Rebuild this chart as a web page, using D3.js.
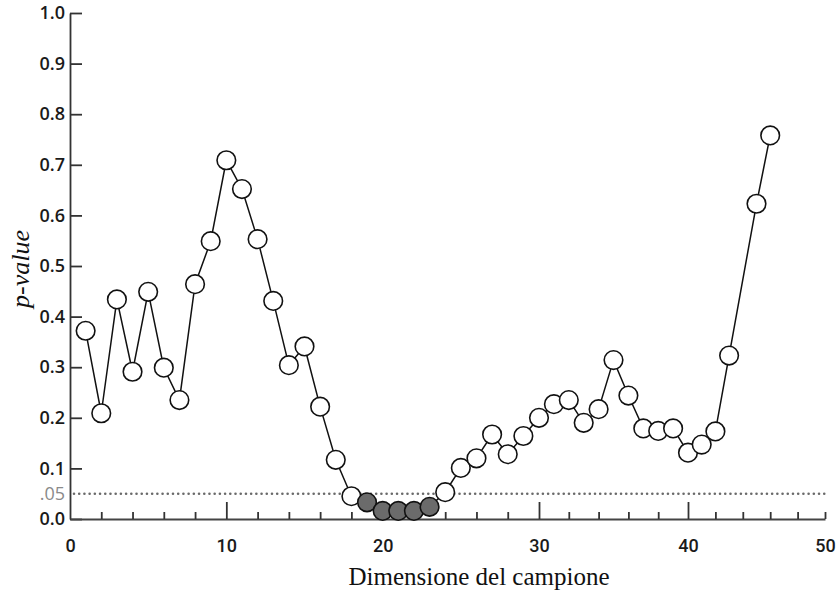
<!DOCTYPE html>
<html><head><meta charset="utf-8">
<script src="https://cdn.jsdelivr.net/npm/d3@7"></script>
<style>body{margin:0;background:#fff}</style>
</head><body>
<svg id="c" width="836" height="594"></svg>
<script>
// ---- data ----
const sampleSizes = [1,2,3,4,5,6,7,8,9,10,11,12,13,14,15,16,17,18,19,20,21,22,23,24,25,26,27,28,29,30,31,32,33,34,35,36,37,38,39,40,41,42,43,45,46];
const pValues = [0.372,0.209,0.434,0.291,0.449,0.299,0.235,0.464,0.549,0.709,0.652,0.553,0.431,0.304,0.341,0.222,0.117,0.045,0.033,0.016,0.016,0.016,0.024,0.053,0.101,0.120,0.167,0.128,0.164,0.200,0.227,0.235,0.190,0.217,0.314,0.244,0.179,0.174,0.179,0.131,0.147,0.173,0.323,0.623,0.758];
const significantSizes = [19,20,21,22,23];
const yTickValues = [0,0.1,0.2,0.3,0.4,0.5,0.6,0.7,0.8,0.9,1.0];
const yTickLabels = ["0.0","0.1","0.2","0.3","0.4","0.5","0.6","0.7","0.8","0.9","1.0"];
const xMajorTicks = [0,10,20,30,40,50];
const xLongTicks = [10,20,30,40];
const xShortTicks = [2,4,6,8,12,14,16,18,22,24,26,28,32,34,36,38,42,44,46,48,50];
const alphaLevel = 0.05;
const alphaLabel = ".05";
const xTitle = "Dimensione del campione";
const yTitle = "p-value";

// ---- chart ----
const svg = d3.select("#c");
const x = d3.scaleLinear().domain([0,30,40,50]).range([70,539,688,825]);
const y = d3.scaleLinear().domain([0,1]).range([519,13]);

// y axis
const yAxis = svg.append("g").attr("transform","translate(70,0)")
  .call(d3.axisLeft(y).tickValues(yTickValues).tickSize(-12).tickSizeOuter(0).tickPadding(5)
    .tickFormat((d,i)=>yTickLabels[i]));
yAxis.select(".domain").attr("stroke","#333").attr("stroke-width",1.8);
yAxis.selectAll(".tick line").attr("stroke","#333").attr("stroke-width",1.8);
yAxis.selectAll(".tick text").attr("fill","#1a1a1a")
  .style("font-family","'Open Sans', sans-serif").style("font-weight","600").style("font-size","18px");

// .05 label and dotted line
svg.append("text").attr("x",65).attr("y",y(alphaLevel)).attr("dy","0.35em").attr("text-anchor","end")
  .attr("fill","#8a8a8a").style("font-family","'Open Sans', sans-serif").style("font-size","18px").text(alphaLabel);
svg.append("line").attr("x1",x(0)+4).attr("x2",x(50)).attr("y1",y(alphaLevel)).attr("y2",y(alphaLevel))
  .attr("stroke","#6a6a6a").attr("stroke-width",2.6).attr("stroke-linecap","round").attr("stroke-dasharray","0.01 5.2");

// x axis
const xAxis = svg.append("g").attr("transform","translate(0,519)")
  .call(d3.axisBottom(x).tickValues(xMajorTicks).tickSize(0).tickSizeOuter(0).tickPadding(20).tickFormat(d3.format("d")));
xAxis.select(".domain").attr("stroke","#444").attr("stroke-width",2.2);
xAxis.selectAll(".tick text").attr("fill","#1a1a1a")
  .style("font-family","Roboto, 'Liberation Sans', sans-serif").style("font-weight","500").style("font-size","18px");
const xLong = svg.append("g").attr("transform","translate(0,519)")
  .call(d3.axisBottom(x).tickValues(xLongTicks).tickSize(-17).tickSizeOuter(0).tickFormat(""));
xLong.select(".domain").remove();
xLong.selectAll(".tick line").attr("stroke","#333").attr("stroke-width",1.8);
const xShort = svg.append("g").attr("transform","translate(0,519)")
  .call(d3.axisBottom(x).tickValues(xShortTicks).tickSize(-7).tickSizeOuter(0).tickFormat(""));
xShort.select(".domain").remove();
xShort.selectAll(".tick line").attr("stroke","#333").attr("stroke-width",1.8);

// titles
svg.append("text").attr("x",479).attr("y",585).attr("text-anchor","middle")
  .style("font-family","'Liberation Serif', 'Times New Roman', serif").style("font-size","25px").attr("fill","#111").text(xTitle);
svg.append("text").attr("transform","translate(29,269) rotate(-90)").attr("text-anchor","middle")
  .style("font-family","'Liberation Serif', 'Times New Roman', serif").style("font-style","italic").style("font-size","26px").attr("fill","#111").text(yTitle);

// line + points
const data = sampleSizes.map((s,i)=>({s, p:pValues[i]}));
svg.append("path").datum(data)
  .attr("d", d3.line().x(d=>x(d.s)).y(d=>y(d.p)))
  .attr("fill","none").attr("stroke","#111").attr("stroke-width",1.5);
svg.append("g").selectAll("circle").data(data).join("circle")
  .attr("cx",d=>x(d.s)).attr("cy",d=>y(d.p)).attr("r",9.3)
  .attr("fill",d=>significantSizes.includes(d.s)?"#6b6b6b":"#fff")
  .attr("stroke","#111").attr("stroke-width",1.6);
</script>
</body></html>
